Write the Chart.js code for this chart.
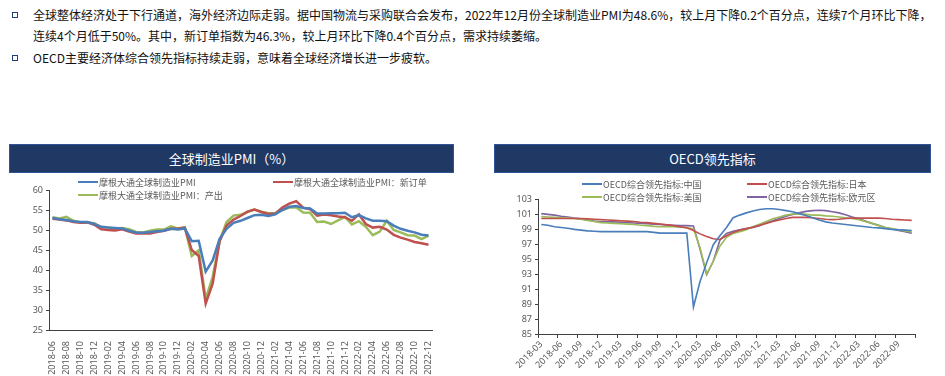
<!DOCTYPE html>
<html>
<head>
<meta charset="utf-8">
<script src="https://cdn.jsdelivr.net/npm/chart.js@4.4.1/dist/chart.umd.min.js"></script>
<style>
  html, body { margin: 0; padding: 0; background: #fff; }
  body { width: 945px; height: 376px; position: relative; overflow: hidden; font-family: "Noto Sans CJK SC", "Noto Sans", sans-serif; }
  .txt { position: absolute; left: 33px; font-size: 12px; line-height: 16px; color: #111; white-space: nowrap; }
  .sq { position: absolute; left: 12px; width: 4px; height: 4px; border: 1.5px solid #1f3f7a; }
  .bar { position: absolute; top: 144px; height: 27px; background: #1f3864; border: 1px solid #2f5597; color: #fff; font-size: 13px; line-height: 27px; text-align: center; }
  .box { position: absolute; }
  .lg { position: absolute; height: 12px; display: flex; align-items: center; font-size: 9px; color: #595959; white-space: nowrap; }
  .lg i { display: inline-block; width: 20px; margin-right: 1px; }
</style>
</head>
<body>
<div class="sq" style="top:12px"></div>
<div class="txt" style="top:7px">全球整体经济处于下行通道，海外经济边际走弱。据中国物流与采购联合会发布，2022年12月份全球制造业PMI为48.6%，较上月下降0.2个百分点，连续7个月环比下降，</div>
<div class="txt" style="top:28px">连续4个月低于50%。其中，新订单指数为46.3%，较上月环比下降0.4个百分点，需求持续萎缩。</div>
<div class="sq" style="top:55px"></div>
<div class="txt" style="top:50px">OECD主要经济体综合领先指标持续走弱，意味着全球经济增长进一步疲软。</div>

<div class="bar" style="left:9px;width:443px">全球制造业PMI（%）</div>
<div class="bar" style="left:494px;width:435px">OECD领先指标</div>

<div class="box" style="left:0;top:178px;width:445px;height:198px"><canvas id="pmi"></canvas></div>
<div class="box" style="left:480px;top:185px;width:450px;height:191px"><canvas id="oecd"></canvas></div>

<div class="lg" style="left:78px;top:176px"><i style="height:2.5px;background:#4a7ebb"></i>摩根大通全球制造业PMI</div>
<div class="lg" style="left:273px;top:176px"><i style="height:2.5px;background:#c0504d"></i>摩根大通全球制造业PMI：新订单</div>
<div class="lg" style="left:78px;top:189px"><i style="height:2.5px;background:#9bbb59"></i>摩根大通全球制造业PMI：产出</div>

<div class="lg" style="left:582px;top:178px"><i style="height:1.5px;background:#4a7ebb"></i>OECD综合领先指标:中国</div>
<div class="lg" style="left:747px;top:178px"><i style="height:1.5px;background:#c0504d"></i>OECD综合领先指标:日本</div>
<div class="lg" style="left:582px;top:191px"><i style="height:1.5px;background:#9bbb59"></i>OECD综合领先指标:美国</div>
<div class="lg" style="left:747px;top:191px"><i style="height:1.5px;background:#8064a2"></i>OECD综合领先指标:欧元区</div>

<script>
// 全球制造业PMI：2018-06 ~ 2022-12
const pmiMonths = [
  '2018-06','2018-07','2018-08','2018-09','2018-10','2018-11','2018-12',
  '2019-01','2019-02','2019-03','2019-04','2019-05','2019-06','2019-07','2019-08','2019-09','2019-10','2019-11','2019-12',
  '2020-01','2020-02','2020-03','2020-04','2020-05','2020-06','2020-07','2020-08','2020-09','2020-10','2020-11','2020-12',
  '2021-01','2021-02','2021-03','2021-04','2021-05','2021-06','2021-07','2021-08','2021-09','2021-10','2021-11','2021-12',
  '2022-01','2022-02','2022-03','2022-04','2022-05','2022-06','2022-07','2022-08','2022-09','2022-10','2022-11','2022-12'
];
const pmiTotal = [
  53.0, 52.7, 52.5, 52.2, 52.0, 52.0, 51.5,
  50.8, 50.6, 50.5, 50.4, 49.8, 49.4, 49.3, 49.5, 49.7, 49.8, 50.3, 50.1,
  50.4, 47.2, 47.3, 39.6, 42.4, 47.8, 50.3, 51.8, 52.3, 53.0, 53.7, 53.8,
  53.5, 53.9, 55.0, 55.8, 56.0, 55.5, 55.4, 54.1, 54.1, 54.2, 54.2, 54.3,
  53.2, 53.7, 52.9, 52.3, 52.3, 52.2, 51.1, 50.3, 49.8, 49.4, 48.8, 48.6
];
const pmiNewOrders = [
  52.8, 52.6, 52.4, 52.0, 51.8, 51.9, 51.3,
  50.2, 50.0, 49.9, 50.2, 49.6, 49.1, 49.2, 49.1, 49.5, 49.8, 50.3, 50.3,
  50.6, 45.0, 43.5, 31.6, 36.6, 47.2, 51.1, 52.6, 53.5, 54.6, 55.1, 54.5,
  54.0, 54.1, 55.6, 56.6, 57.2, 55.6, 55.2, 53.6, 53.9, 53.7, 53.4, 53.2,
  52.3, 53.9, 51.5, 50.6, 50.8, 50.1, 48.8, 48.1, 47.6, 47.0, 46.7, 46.3
];
const pmiOutput = [
  53.2, 52.9, 53.3, 52.3, 51.9, 51.9, 51.7,
  50.7, 50.6, 50.3, 50.5, 50.2, 49.5, 49.4, 49.8, 50.1, 50.1, 50.9, 50.4,
  50.7, 43.5, 44.9, 32.8, 38.3, 47.3, 52.0, 53.6, 53.8, 54.5, 55.1, 54.6,
  54.2, 54.2, 55.0, 55.6, 55.7, 54.4, 54.3, 52.0, 52.1, 51.5, 52.4, 53.3,
  51.4, 52.2, 50.8, 48.7, 49.6, 52.3, 50.0, 49.4, 48.7, 48.6, 47.7, 48.6
];

// OECD综合领先指标：2018-03 ~ 2022-11
const oecdMonths = [
  '2018-03','2018-04','2018-05','2018-06','2018-07','2018-08','2018-09','2018-10','2018-11','2018-12',
  '2019-01','2019-02','2019-03','2019-04','2019-05','2019-06','2019-07','2019-08','2019-09','2019-10','2019-11','2019-12',
  '2020-01','2020-02','2020-03','2020-04','2020-05','2020-06','2020-07','2020-08','2020-09','2020-10','2020-11','2020-12',
  '2021-01','2021-02','2021-03','2021-04','2021-05','2021-06','2021-07','2021-08','2021-09','2021-10','2021-11','2021-12',
  '2022-01','2022-02','2022-03','2022-04','2022-05','2022-06','2022-07','2022-08','2022-09','2022-10','2022-11'
];
const cliChina = [
  99.6, 99.5, 99.3, 99.2, 99.1, 98.95, 98.85, 98.75, 98.7, 98.65,
  98.65, 98.65, 98.65, 98.65, 98.65, 98.65, 98.65, 98.55, 98.45, 98.45, 98.45, 98.45,
  98.45, 88.6, 92.0, 94.5, 96.9, 98.1, 99.2, 100.5, 100.85, 101.15, 101.4, 101.6,
  101.7, 101.7, 101.6, 101.45, 101.3, 101.05, 100.8, 100.5, 100.2, 99.95, 99.8, 99.7,
  99.6, 99.5, 99.4, 99.3, 99.2, 99.15, 99.05, 98.95, 98.9, 98.85, 98.8
];
const cliJapan = [
  100.4, 100.4, 100.4, 100.4, 100.4, 100.4, 100.4, 100.35, 100.3, 100.25,
  100.2, 100.15, 100.1, 100.05, 100.0, 99.9, 99.85, 99.75, 99.65, 99.55, 99.45, 99.3,
  99.15, 98.8, 98.35, 98.0, 97.7, 97.6, 98.1, 98.55, 98.85, 99.05, 99.25, 99.5,
  99.75, 100.0, 100.2, 100.4, 100.55, 100.55, 100.55, 100.5, 100.4, 100.3, 100.25, 100.3,
  100.4, 100.45, 100.45, 100.45, 100.45, 100.45, 100.4, 100.3, 100.25, 100.2, 100.15
];
const cliUS = [
  100.65, 100.6, 100.55, 100.5, 100.45, 100.4, 100.3, 100.15, 100.0, 99.85,
  99.8, 99.75, 99.7, 99.65, 99.6, 99.5, 99.45, 99.35, 99.3, 99.3, 99.3, 99.25,
  99.2, 99.0, 96.5, 93.0, 94.7, 96.7, 97.9, 98.4, 98.65, 98.9, 99.3, 99.65,
  100.0, 100.35, 100.6, 100.85, 101.0, 101.05, 100.95, 100.85, 100.85, 100.75, 100.7, 100.6,
  100.5, 100.4, 100.25, 100.0, 99.75, 99.45, 99.2, 99.05, 98.9, 98.75, 98.6
];
const cliEuro = [
  101.05, 100.95, 100.85, 100.7, 100.6, 100.45, 100.35, 100.2, 100.05, 99.95,
  99.95, 99.95, 99.9, 99.85, 99.8, 99.75, 99.7, 99.65, 99.6, 99.55, 99.5, 99.45,
  99.45, 99.4, 96.3, 92.9, 94.7, 97.5, 98.4, 98.7, 98.9, 99.05, 99.2, 99.45,
  99.8, 100.1, 100.4, 100.7, 100.95, 101.15, 101.35, 101.45, 101.5, 101.45, 101.3, 101.15,
  100.9, 100.6, 100.35, 100.05, 99.75, 99.5, 99.2, 99.0, 98.8, 98.65, 98.45
];

const TICK_COLOR = '#595959';
const AXIS_COLOR = '#404040';
const FONT = { family: "'Noto Sans', 'Noto Sans CJK SC', sans-serif", size: 9 };

function line(label, data, color, width) {
  return { label, data, borderColor: color, backgroundColor: color, borderWidth: width,
    pointRadius: 0, pointHoverRadius: 0, tension: 0, fill: false };
}

new Chart(document.getElementById('pmi'), {
  type: 'line',
  data: {
    labels: pmiMonths,
    datasets: [
      line('摩根大通全球制造业PMI', pmiTotal, '#4a7ebb', 2.5),
      line('摩根大通全球制造业PMI：新订单', pmiNewOrders, '#c0504d', 2.5),
      line('摩根大通全球制造业PMI：产出', pmiOutput, '#9bbb59', 2.5)
    ]
  },
  options: {
    responsive: true,
    maintainAspectRatio: false,
    animation: false,
    layout: { padding: { top: 12, right: 13, left: 0, bottom: 0 } },
    plugins: { legend: { display: false }, tooltip: { enabled: false } },
    scales: {
      x: {
        offset: true,
        grid: { display: false },
        border: { display: true, color: AXIS_COLOR, width: 1 },
        ticks: {
          autoSkip: false, minRotation: 90, maxRotation: 90, padding: 3,
          color: TICK_COLOR, font: FONT,
          callback(v, i) { return i % 2 === 0 ? this.getLabelForValue(v) : ''; }
        },
        afterFit(s) { s.height = 46; }
      },
      y: {
        min: 25, max: 60,
        ticks: { stepSize: 5, color: TICK_COLOR, font: FONT, padding: 3 },
        grid: { drawOnChartArea: false, drawTicks: true, tickLength: 3, color: AXIS_COLOR },
        border: { display: true, color: AXIS_COLOR, width: 1 },
        afterFit(s) { s.width = 49; }
      }
    }
  }
});

new Chart(document.getElementById('oecd'), {
  type: 'line',
  data: {
    labels: oecdMonths,
    datasets: [
      line('OECD综合领先指标:中国', cliChina, '#4a7ebb', 1.6),
      line('OECD综合领先指标:日本', cliJapan, '#c0504d', 1.6),
      line('OECD综合领先指标:美国', cliUS, '#9bbb59', 1.6),
      line('OECD综合领先指标:欧元区', cliEuro, '#8064a2', 1.6)
    ]
  },
  options: {
    responsive: true,
    maintainAspectRatio: false,
    animation: false,
    layout: { padding: { top: 14, right: 15, left: 0, bottom: 0 } },
    plugins: { legend: { display: false }, tooltip: { enabled: false } },
    scales: {
      x: {
        offset: true,
        grid: {
          offset: true, drawOnChartArea: false, drawTicks: true, tickLength: 4,
          color: c => (c.type !== 'tick' || c.index % 3 === 0) ? AXIS_COLOR : 'rgba(0,0,0,0)'
        },
        border: { display: true, color: AXIS_COLOR, width: 1 },
        ticks: {
          autoSkip: false, minRotation: 45, maxRotation: 45, padding: 1,
          color: TICK_COLOR, font: FONT,
          callback(v, i) { return i % 3 === 0 ? this.getLabelForValue(v) : ''; }
        },
        afterFit(s) { s.height = 42; }
      },
      y: {
        min: 85, max: 103,
        ticks: { stepSize: 2, color: TICK_COLOR, font: FONT, padding: 3 },
        grid: { drawOnChartArea: false, drawTicks: true, tickLength: 3, color: AXIS_COLOR },
        border: { display: true, color: AXIS_COLOR, width: 1 },
        afterFit(s) { s.width = 58; }
      }
    }
  }
});
</script>
</body>
</html>
